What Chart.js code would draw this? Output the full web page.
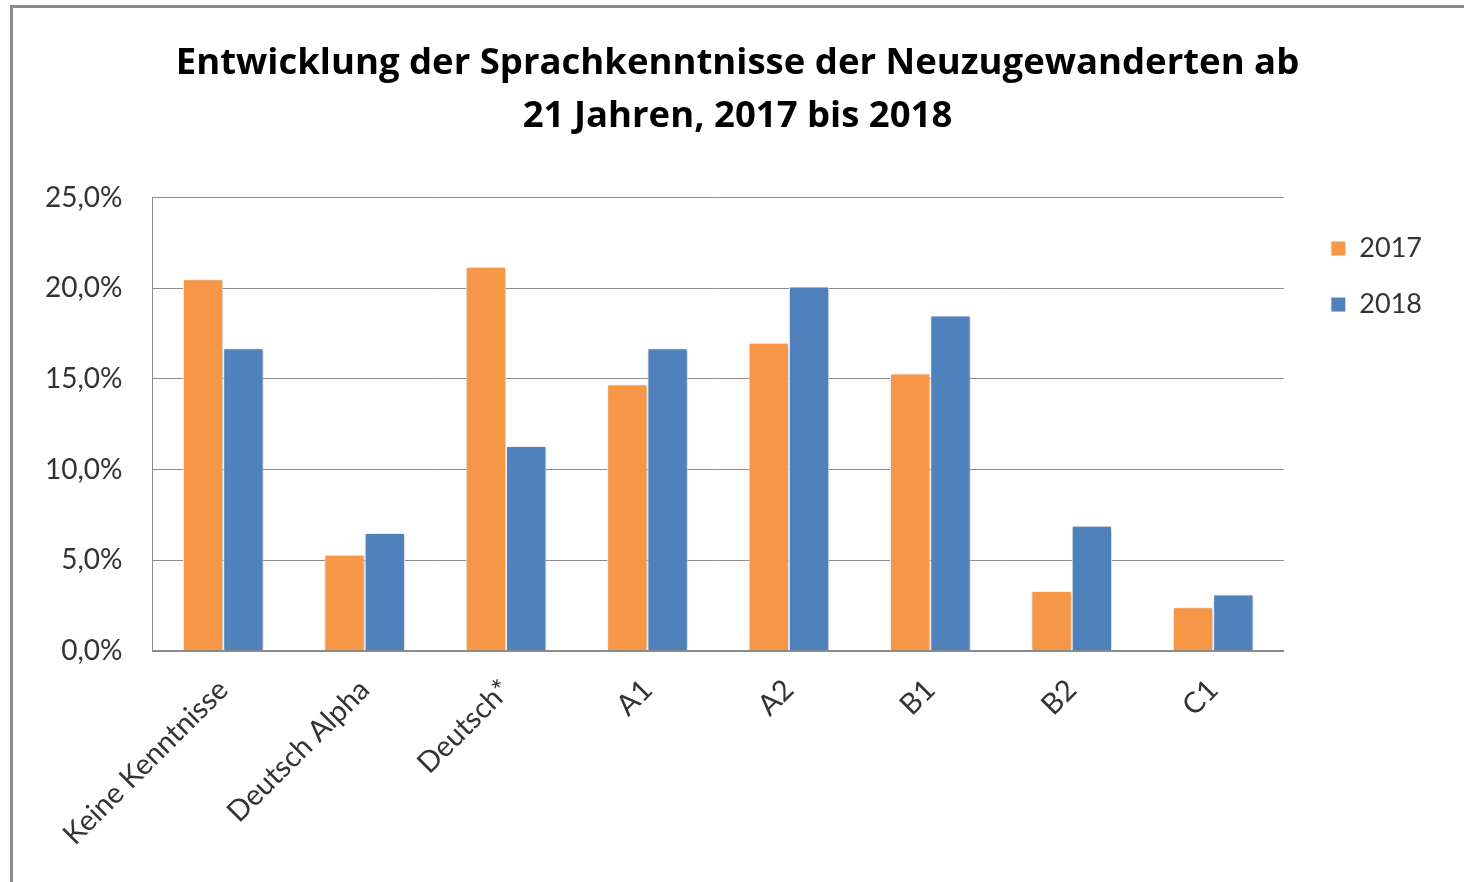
<!DOCTYPE html>
<html>
<head>
<meta charset="utf-8">
<script src="https://cdn.jsdelivr.net/npm/chart.js@4"></script>
<style>
  body { margin: 0; background: #fff; }
  #wrap { position: relative; width: 1464px; height: 882px; overflow: hidden; }
  #frame { position: absolute; left: 10px; top: 5px; width: 1500px; height: 900px;
           border-left: 3px solid #8c8c8c; border-top: 3px solid #8c8c8c; pointer-events: none; }
  canvas { position: absolute; left: 0; top: 0; }
</style>
</head>
<body>
<div id="wrap">
  <canvas id="myChart" width="1464" height="882"></canvas>
  <div id="frame"></div>
</div>
<script>
const categories = ['Keine Kenntnisse', 'Deutsch Alpha', 'Deutsch*', 'A1', 'A2', 'B1', 'B2', 'C1'];
const values2017 = [20.5, 5.3, 21.2, 14.7, 17.0, 15.3, 3.3, 2.4];
const values2018 = [16.7, 6.5, 11.3, 16.7, 20.1, 18.5, 6.9, 3.1];
const titleLines = ['Entwicklung der Sprachkenntnisse der Neuzugewanderten ab', '21 Jahren, 2017 bis 2018'];

const fontName = 'Lato, "Open Sans", sans-serif';
const titleFont = '"Open Sans", Lato, sans-serif';

// soft shadow behind the bars, like the office chart
const barShadow = {
  id: 'barShadow',
  beforeDatasetsDraw(chart) {
    const c = chart.ctx;
    c.save();
    c.shadowColor = 'rgba(0,0,0,0.28)';
    c.shadowBlur = 5;
    c.shadowOffsetX = 1;
    c.shadowOffsetY = 1;
  },
  afterDatasetsDraw(chart) {
    chart.ctx.restore();
  }
};

// nudge legend and title sideways to sit where the original has them
const boxShift = {
  id: 'boxShift',
  afterLayout(chart) {
    if (chart.legend) {
      chart.legend.left += 18;
      chart.legend.right += 18;
    }
    if (chart.titleBlock) {
      chart.titleBlock.left += 23;
      chart.titleBlock.right += 23;
    }
  }
};

const ctx = document.getElementById('myChart');

new Chart(ctx, {
  type: 'bar',
  data: {
    labels: categories,
    datasets: [{
      label: '2017',
      data: values2017,
      backgroundColor: '#F79646',
      borderColor: '#ffffff',
      borderWidth: 1
    }, {
      label: '2018',
      data: values2018,
      backgroundColor: '#4F81BD',
      borderColor: '#ffffff',
      borderWidth: 1
    }]
  },
  plugins: [barShadow, boxShift],
  options: {
    responsive: false,
    animation: false,
    layout: { padding: { left: 15, right: 50, top: 0, bottom: 8 } },
    datasets: { bar: { barPercentage: 1, categoryPercentage: 0.57 } },
    plugins: {
      title: {
        display: true,
        text: titleLines,
        color: '#000',
        font: { family: titleFont, size: 36.5, weight: 'bold', lineHeight: 1.45 },
        padding: { top: 37, bottom: 55 }
      },
      legend: {
        position: 'right',
        align: 'start',
        fullSize: false,
        title: { display: true, text: '', font: { size: 1 }, padding: { top: 7, bottom: 0 } },
        labels: {
          color: '#333',
          font: { family: fontName, size: 27 },
          boxWidth: 15,
          boxHeight: 15,
          padding: 29
        }
      },
      tooltip: { enabled: false }
    },
    scales: {
      x: {
        grid: { display: false, drawTicks: false },
        border: { color: '#8c8c8c', width: 2 },
        ticks: {
          color: '#333',
          font: { family: fontName, size: 29 },
          minRotation: 45,
          maxRotation: 45,
          padding: 22,
          autoSkip: false
        }
      },
      y: {
        min: 0,
        max: 25,
        grid: { color: '#8c8c8c', lineWidth: 1, drawTicks: false },
        border: { color: '#8c8c8c', width: 1 },
        ticks: {
          stepSize: 5,
          color: '#333',
          font: { family: fontName, size: 28 },
          padding: 30,
          callback: v => v.toFixed(1).replace('.', ',') + '%'
        }
      }
    }
  }
});
</script>
</body>
</html>
